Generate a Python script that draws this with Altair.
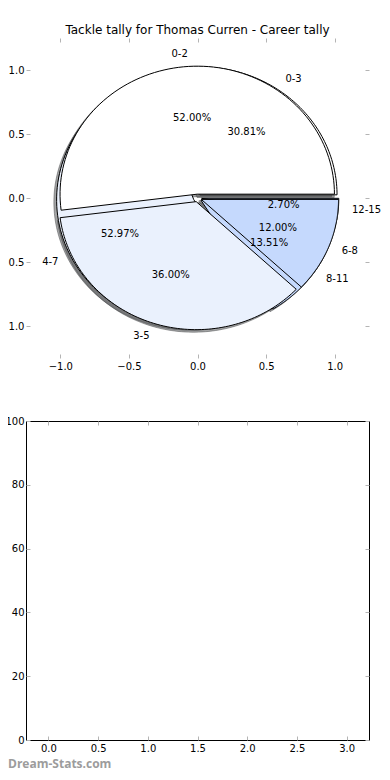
import altair as alt
import pandas as pd

# ---- data -------------------------------------------------------------
pie_a_labels = ["0-2", "3-5", "6-8"]
pie_a_values = [52.00, 36.00, 12.00]
pie_b_labels = ["0-3", "4-7", "8-11", "12-15"]
pie_b_values = [30.81, 52.97, 13.51, 2.70]

slice_colors = ["#ffffff", "#eaf1fd", "#c5d9fd", "#a9c6fa"]

top_x_ticks = [-1.0, -0.5, 0.0, 0.5, 1.0]
top_y_ticks = [-1.0, -0.5, 0.0, 0.5, 1.0]
bottom_x_ticks = [0.0, 0.5, 1.0, 1.5, 2.0, 2.5, 3.0]
bottom_y_ticks = [0, 20, 40, 60, 80, 100]

title_text = "Tackle tally for Thomas Curren - Career tally"
watermark = "Dream-Stats.com"

rows = []
for pie_id, (labels, values) in enumerate([(pie_b_labels, pie_b_values),
                                           (pie_a_labels, pie_a_values)]):
    for i, (lab, val) in enumerate(zip(labels, values)):
        rows.append({"pie": pie_id, "slot": i, "label": lab,
                     "value": val, "color": slice_colors[i]})
df = pd.DataFrame(rows)

FONT = "DejaVu Sans"
N = 90
EXPLODE = 0.03
W = 343

xs = alt.Scale(domain=[-1.25, 1.25], nice=False, zero=False)
ys = alt.Scale(domain=[-1.25, 1.25], nice=False, zero=False)


def ax_main(values, orient, pad):
    return alt.Axis(values=values, format=".1f", orient=orient, title=None,
                    labelPadding=pad)


def ax_mirror(values, orient):
    return alt.Axis(values=values, orient=orient, title=None, labels=False)


base = (
    alt.Chart(df)
    .transform_joinaggregate(total="sum(value)", groupby=["pie"])
    .transform_window(cum="sum(value)", groupby=["pie"],
                      sort=[alt.SortField("slot")], frame=[None, 0])
    .transform_calculate(
        a0="2*PI*(datum.cum - datum.value)/datum.total",
        a1="2*PI*datum.cum/datum.total",
    )
    .transform_calculate(am="(datum.a0 + datum.a1)/2")
    .transform_calculate(
        cx=f"{EXPLODE}*cos(datum.am)",
        cy=f"{EXPLODE}*sin(datum.am)",
        pct="format(datum.value, '.2f') + '%'",
    )
)

pts = (
    base.transform_calculate(seq=f"sequence(0, {N + 3})")
    .transform_flatten(["seq"])
    .transform_calculate(
        t=f"datum.a0 + (datum.a1 - datum.a0) * (datum.seq - 1) / {N}",
        rr=f"(datum.seq == 0 || datum.seq == {N + 2}) ? 0 : 1",
    )
    .transform_calculate(
        px="datum.cx + datum.rr * cos(datum.t)",
        py="datum.cy + datum.rr * sin(datum.t)",
    )
)

shadow = (
    pts.transform_calculate(sx="datum.px - 0.02", sy="datum.py - 0.02")
    .mark_line(filled=True, fill="#4a4b4e", fillOpacity=0.5,
               stroke="#4a4b4e", strokeOpacity=0.5, strokeWidth=1)
    .encode(
        x=alt.X("sx:Q", scale=xs, axis=ax_main(top_x_ticks, "bottom", 3)),
        y=alt.Y("sy:Q", scale=ys, axis=ax_main(top_y_ticks, "left", 2)),
        order=alt.Order("seq:Q"),
        detail=alt.Detail("label:N"),
    )
)


def wedges(pie_id, mirror=False):
    return (
        pts.transform_filter(f"datum.pie == {pie_id}")
        .mark_line(filled=True, stroke="black", strokeWidth=1,
                   strokeJoin="miter")
        .encode(
            x=alt.X("px:Q", scale=xs,
                    axis=ax_mirror(top_x_ticks, "top") if mirror else None),
            y=alt.Y("py:Q", scale=ys,
                    axis=ax_mirror(top_y_ticks, "right") if mirror else None),
            order=alt.Order("seq:Q"),
            detail=alt.Detail("label:N"),
            color=alt.Color("color:N", scale=None, legend=None),
        )
    )


lab = base.transform_calculate(
    lx=f"datum.cx + 1.1*cos(datum.am)",
    ly=f"datum.cy + 1.1*sin(datum.am)",
    qx=f"datum.cx + 0.6*cos(datum.am)",
    qy=f"datum.cy + 0.6*sin(datum.am)",
)

lab_right = lab.transform_filter("cos(datum.am) > 0").mark_text(
    align="left", baseline="middle", font=FONT, fontSize=10, color="black"
).encode(x=alt.X("lx:Q", scale=xs, axis=None),
         y=alt.Y("ly:Q", scale=ys, axis=None), text="label:N")

lab_left = lab.transform_filter("cos(datum.am) <= 0").mark_text(
    align="right", baseline="middle", font=FONT, fontSize=10, color="black"
).encode(x=alt.X("lx:Q", scale=xs, axis=None),
         y=alt.Y("ly:Q", scale=ys, axis=None), text="label:N")

pct_text = lab.mark_text(
    align="center", baseline="middle", font=FONT, fontSize=10, color="black"
).encode(x=alt.X("qx:Q", scale=xs, axis=None),
         y=alt.Y("qy:Q", scale=ys, axis=None), text="pct:N")

top = (
    alt.layer(shadow, wedges(0, mirror=True), wedges(1), lab_right, lab_left,
              pct_text)
    .resolve_axis(x="independent", y="independent")
    .properties(
        width=W, height=320,
        title=alt.TitleParams(title_text, font=FONT, fontSize=12,
                              fontWeight="normal", color="black", offset=1),
        view=alt.ViewBackground(strokeOpacity=0),
    )
)

# ---- bottom (empty) panel ----------------------------------------------
empty = pd.DataFrame({"bx": pd.Series([], dtype=float),
                      "by": pd.Series([], dtype=float)})
bxs = alt.Scale(domain=[-0.225, 3.225], nice=False, zero=False)
bys = alt.Scale(domain=[0, 100], nice=False, zero=False)

b_main = alt.Chart(empty).mark_point(opacity=0).encode(
    x=alt.X("bx:Q", scale=bxs,
            axis=alt.Axis(values=bottom_x_ticks, format=".1f", title=None,
                          orient="bottom", labelPadding=3)),
    y=alt.Y("by:Q", scale=bys,
            axis=alt.Axis(values=bottom_y_ticks, format="d", title=None,
                          orient="left", labelPadding=2)),
)
b_mirror = alt.Chart(empty).mark_point(opacity=0).encode(
    x=alt.X("bx:Q", scale=bxs, axis=ax_mirror(bottom_x_ticks, "top")),
    y=alt.Y("by:Q", scale=bys, axis=ax_mirror(bottom_y_ticks, "right")),
)

bottom = (
    alt.layer(b_main, b_mirror)
    .resolve_axis(x="independent", y="independent")
    .properties(
        width=W, height=319,
        title=alt.TitleParams(watermark, orient="bottom", anchor="start",
                              frame="group", dx=-18, offset=6,
                              font="Open Sans", fontWeight="bold",
                              fontSize=12, color="#9c9c9c"),
        view=alt.ViewBackground(stroke="black", strokeWidth=1,
                                strokeOpacity=1),
    )
)

chart = (
    alt.vconcat(top, bottom, spacing=63, bounds="flush")
    .properties(
        autosize=alt.AutoSizeParams(type="none"),
        padding={"left": 18, "top": 30, "right": 13, "bottom": 734},
    )
    .configure_axis(
        domain=False, grid=False, ticks=True, tickColor="#b4b4b4",
        tickSize=4, tickWidth=1, offset=-4,
        labelFont=FONT, labelFontSize=10, labelColor="black",
    )
    .configure_view(strokeOpacity=0)
)

chart.save("out.html", embed_options={"renderer": "svg", "actions": False})
